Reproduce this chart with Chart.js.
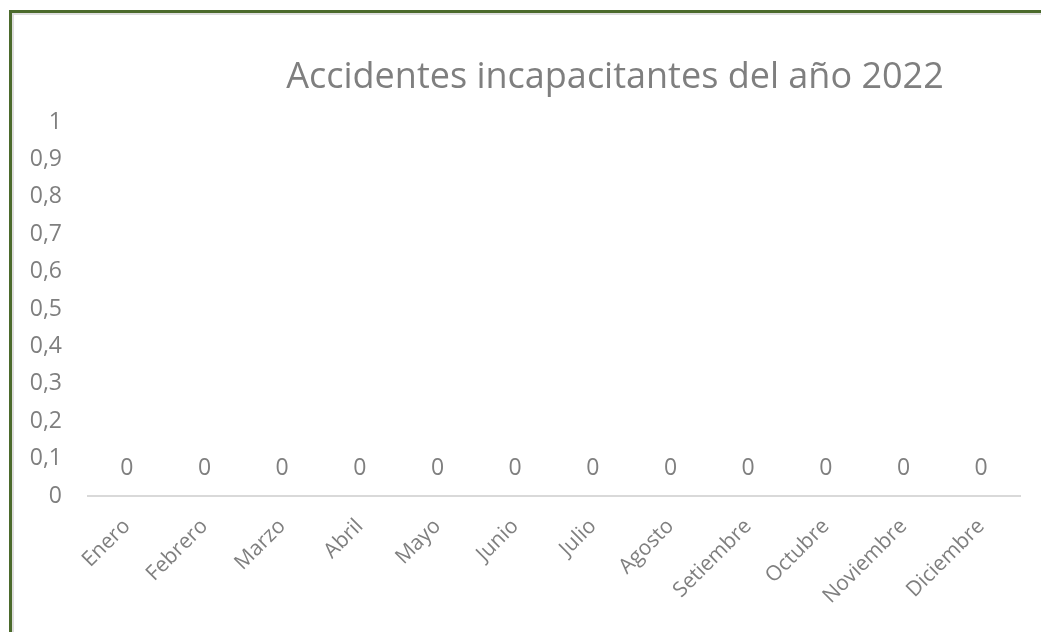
<!DOCTYPE html>
<html>
<head>
<meta charset="utf-8">
<script src="https://cdn.jsdelivr.net/npm/chart.js@4"></script>
<style>
  body { margin: 0; background: #fff; }
  #wrap { position: relative; width: 1041px; height: 632px; }
  #frame {
    position: absolute; left: 9px; top: 10px; right: -10px; bottom: -10px;
    border-left: 3px solid #4b6a2c; border-top: 3px solid #4b6a2c;
    pointer-events: none;
  }
  #frame::after {
    content: ""; position: absolute; left: 0; top: 0; right: 0; bottom: 0;
    border-left: 2px solid #dedede; border-top: 2px solid #dedede;
  }
</style>
</head>
<body>
<div id="wrap">
  <canvas id="grafico" width="1041" height="632"></canvas>
  <div id="frame"></div>
</div>
<script>
const meses = ["Enero", "Febrero", "Marzo", "Abril", "Mayo", "Junio", "Julio",
  "Agosto", "Setiembre", "Octubre", "Noviembre", "Diciembre"];
const accidentes = [0, 0, 0, 0, 0, 0, 0, 0, 0, 0, 0, 0];
const titulo = "Accidentes incapacitantes del año 2022";

const gris = "#7f7f7f";
const fuente = "'Open Sans', sans-serif";

// título y etiquetas de valores
const extras = {
  id: "extras",
  afterDatasetsDraw(chart) {
    const ctx = chart.ctx;
    ctx.save();
    ctx.fillStyle = gris;
    ctx.font = "23px " + fuente;
    ctx.textAlign = "center";
    ctx.textBaseline = "middle";
    chart.getDatasetMeta(0).data.forEach((bar, i) => {
      ctx.fillText(String(accidentes[i]), bar.x, bar.y - 28);
    });
    ctx.font = "36px " + fuente;
    ctx.fillText(titulo, 615, 78);
    ctx.restore();
  },
};

new Chart(document.getElementById("grafico").getContext("2d"), {
  type: "bar",
  data: {
    labels: meses,
    datasets: [{ data: accidentes, backgroundColor: "#4472c4" }],
  },
  options: {
    responsive: false,
    animation: false,
    layout: { padding: { top: 122, right: 21, left: 0, bottom: 0 } },
    plugins: { legend: { display: false }, tooltip: { enabled: false } },
    scales: {
      x: {
        grid: { display: false },
        border: { color: "#d9d9d9", width: 2 },
        ticks: {
          color: gris, font: { family: fuente, size: 21 },
          minRotation: 45, maxRotation: 45, padding: 10,
        },
        afterFit: (s) => { s.height = 136; },
      },
      y: {
        min: 0, max: 1,
        grid: { display: false, drawTicks: false },
        border: { display: false },
        ticks: {
          stepSize: 0.1, color: gris, font: { family: fuente, size: 23 },
          padding: 26,
          callback: (v) => (Math.round(v * 10) / 10).toString().replace(".", ","),
        },
        afterFit: (s) => { s.width = 88; },
      },
    },
  },
  plugins: [extras],
});
</script>
</body>
</html>
